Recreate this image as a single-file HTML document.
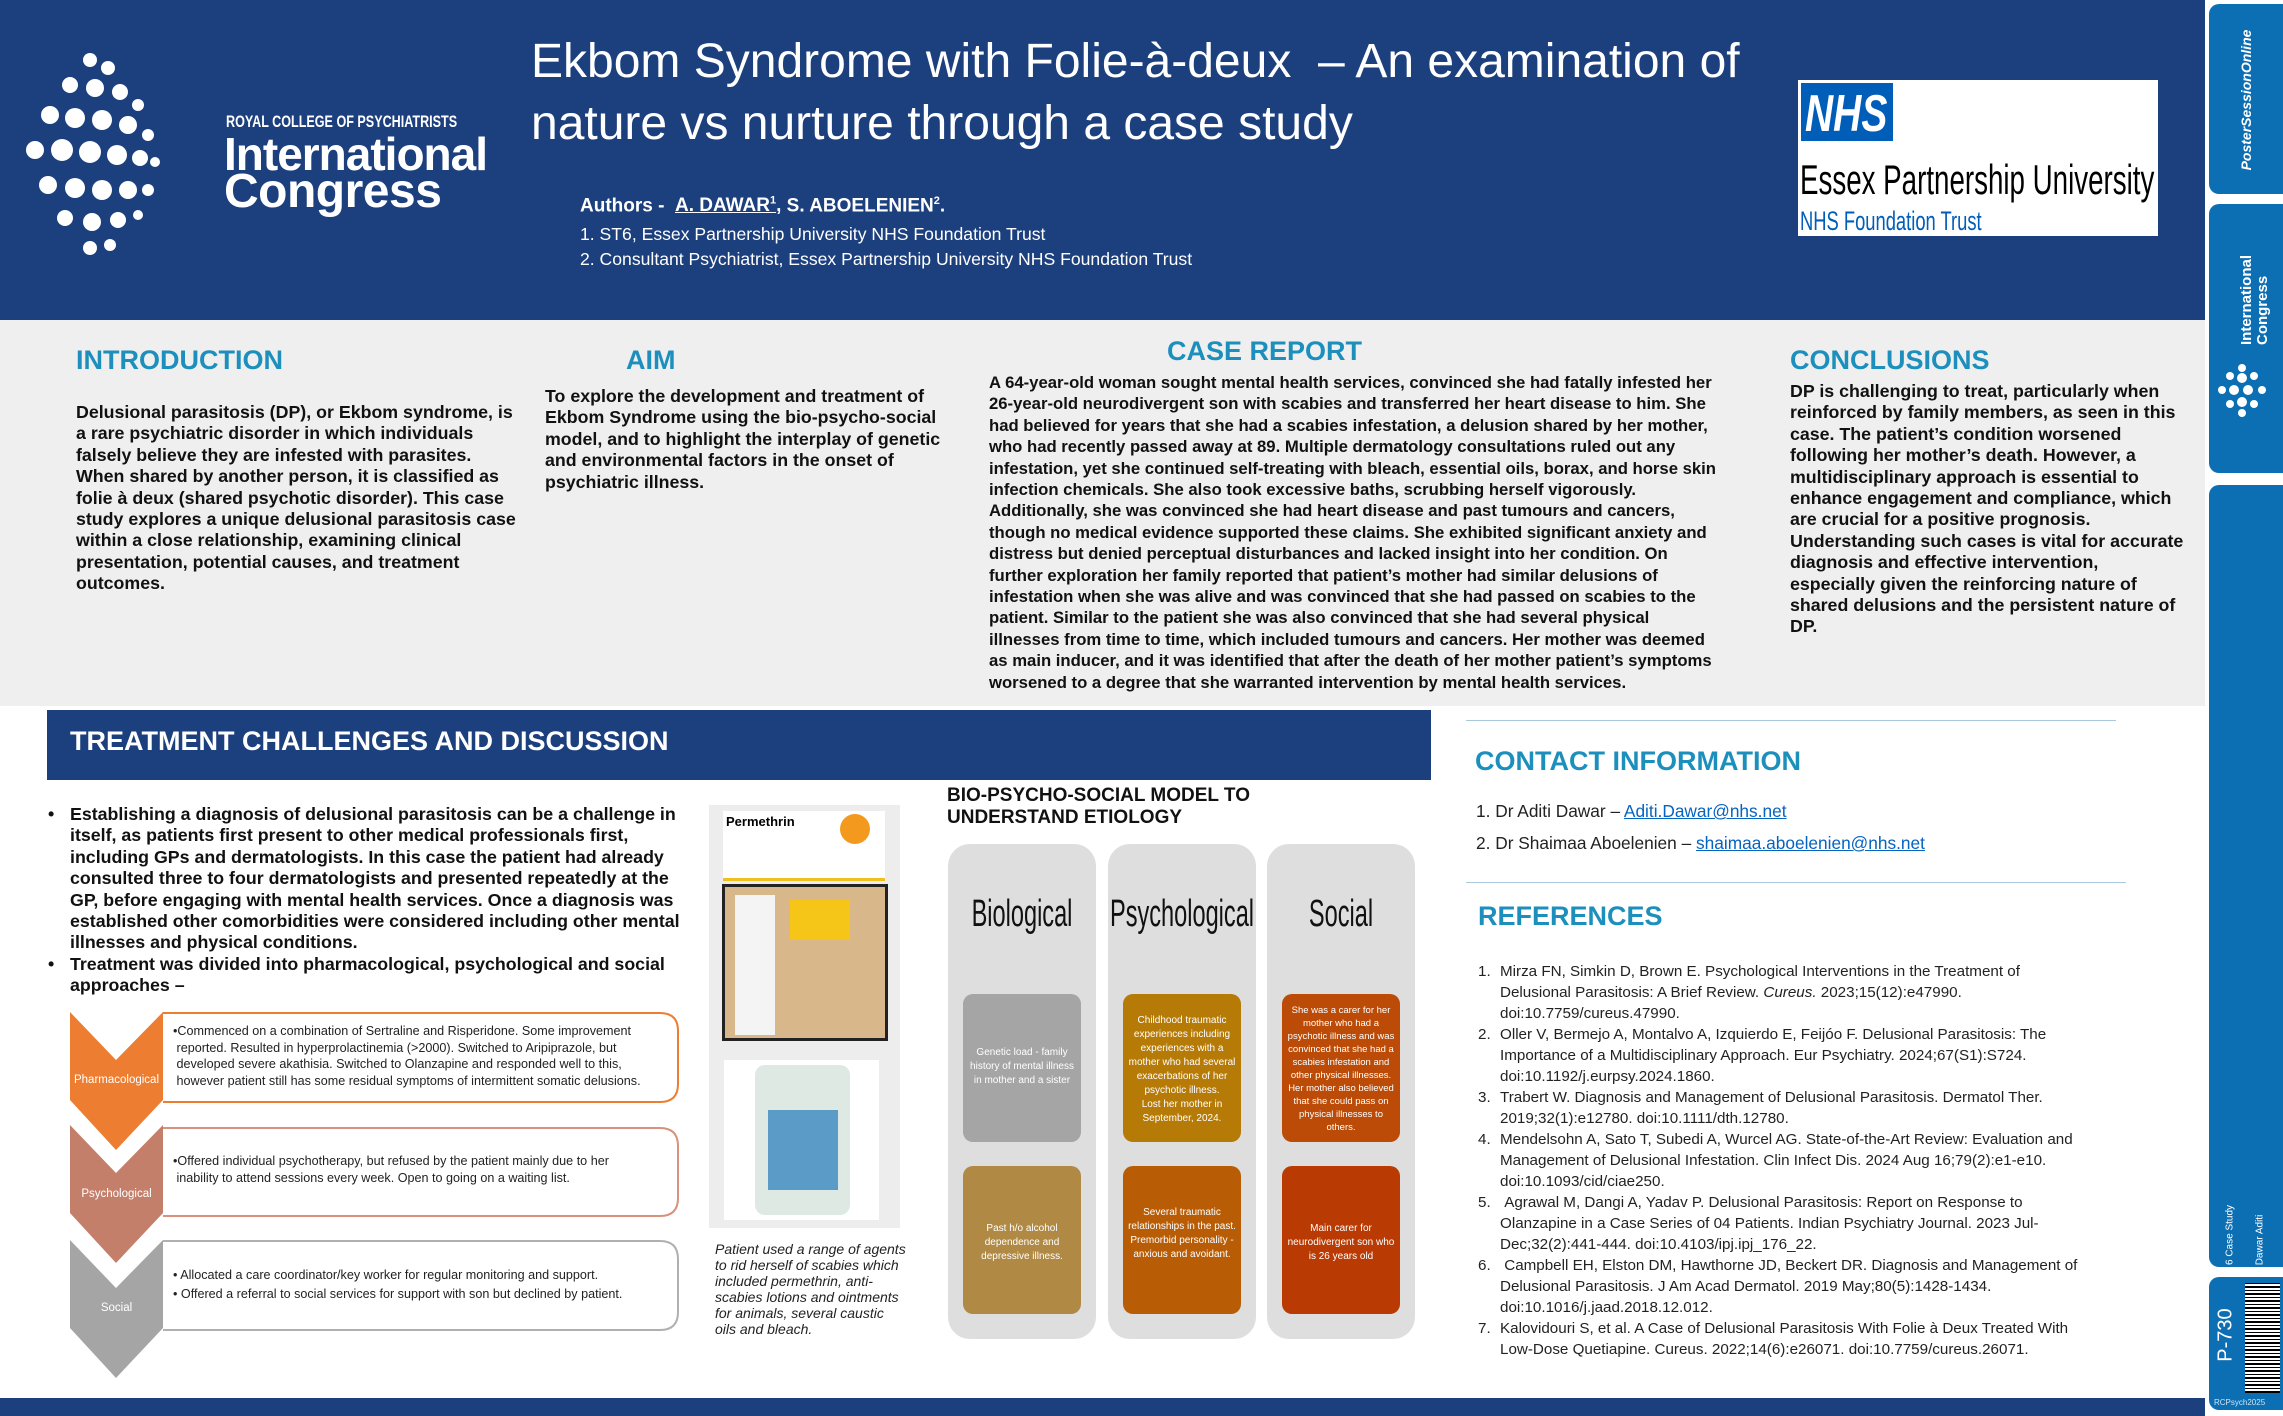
<!DOCTYPE html>
<html><head><meta charset="utf-8">
<style>
*{margin:0;padding:0;box-sizing:border-box}
body{width:2283px;height:1416px;position:relative;background:#fff;font-family:"Liberation Sans",Arial,sans-serif;overflow:hidden}
.a{position:absolute}
.t{position:absolute;white-space:nowrap}
.h{font-weight:bold;color:#1c8fbd;font-size:27px}
.b{font-weight:bold;font-size:17.8px;line-height:21.4px;color:#111}
.ref{font-size:15.2px;line-height:21px;color:#222}
.sx{transform-origin:0 0}
.bh{position:absolute;white-space:nowrap;font-size:38px;color:#111;transform:translateX(-50%) scaleX(0.62)}
.bx{position:absolute;color:#fff;font-size:10px;line-height:14px;text-align:center;border-radius:10px;width:118px;height:148px}
</style></head><body>
<!-- header -->
<div class="a" style="left:0;top:0;width:2205px;height:320px;background:#1c3f7d"></div>
<svg class="a" style="left:20px;top:50px" width="150" height="210" viewBox="0 0 150 210">
<g fill="#fff">
<circle cx="70" cy="10" r="7"/><circle cx="88" cy="18" r="7"/>
<circle cx="50" cy="35" r="8"/><circle cx="75" cy="38" r="9"/><circle cx="100" cy="42" r="8"/><circle cx="118" cy="55" r="6"/>
<circle cx="30" cy="65" r="9"/><circle cx="55" cy="68" r="10"/><circle cx="82" cy="70" r="10"/><circle cx="108" cy="75" r="9"/><circle cx="128" cy="85" r="6"/>
<circle cx="15" cy="100" r="9"/><circle cx="42" cy="100" r="11"/><circle cx="70" cy="102" r="11"/><circle cx="97" cy="105" r="10"/><circle cx="120" cy="108" r="8"/><circle cx="135" cy="112" r="5"/>
<circle cx="28" cy="135" r="9"/><circle cx="55" cy="138" r="10"/><circle cx="82" cy="140" r="10"/><circle cx="108" cy="140" r="9"/><circle cx="128" cy="140" r="6"/>
<circle cx="45" cy="168" r="8"/><circle cx="72" cy="172" r="9"/><circle cx="98" cy="170" r="8"/><circle cx="118" cy="165" r="5"/>
<circle cx="70" cy="198" r="7"/><circle cx="90" cy="195" r="6"/>
</g></svg>
<div class="t sx" style="left:226px;top:112px;color:#fff;font-size:17px;font-weight:bold;transform:scaleX(0.74)">ROYAL COLLEGE OF PSYCHIATRISTS</div>
<div class="t" style="left:224px;top:127px;color:#fff;font-size:46px;font-weight:bold;letter-spacing:-1px">International</div>
<div class="t" style="left:224px;top:164px;color:#fff;font-size:48px;font-weight:bold;letter-spacing:-0.5px">Congress</div>
<div class="t" style="left:531px;top:31px;color:#fff;font-size:48px;line-height:62px">Ekbom Syndrome with Folie-à-deux &nbsp;– An examination of<br>nature vs nurture through a case study</div>
<div class="t" style="left:580px;top:195px;color:#fff;font-size:19px;font-weight:bold">Authors - &nbsp;<u>A. DAWAR<sup style="font-size:11px">1</sup>,</u> S. ABOELENIEN<sup style="font-size:11px">2</sup>.</div>
<div class="t" style="left:580px;top:222px;color:#fff;font-size:17.6px;line-height:25px">1. ST6, Essex Partnership University NHS Foundation Trust<br>2. Consultant Psychiatrist, Essex Partnership University NHS Foundation Trust</div>
<div class="a" style="left:1798px;top:80px;width:360px;height:156px;background:#fff"></div>
<div class="a" style="left:1801px;top:83px;width:92px;height:58px;background:#005eb8"></div>
<div class="t sx" style="left:1805px;top:84px;color:#fff;font-size:52px;font-weight:bold;font-style:italic;transform:scaleX(0.75)">NHS</div>
<div class="t sx" style="left:1800px;top:156px;color:#000;font-size:42px;transform:scaleX(0.66)">Essex Partnership University</div>
<div class="t sx" style="left:1800px;top:206px;color:#005eb8;font-size:27px;transform:scaleX(0.68)">NHS Foundation Trust</div>
<!-- gray band -->
<div class="a" style="left:0;top:320px;width:2205px;height:386px;background:#efefef"></div>
<div class="t h" style="left:76px;top:345px">INTRODUCTION</div>
<div class="t h" style="left:626px;top:345px">AIM</div>
<div class="t h" style="left:1167px;top:336px">CASE REPORT</div>
<div class="t h" style="left:1790px;top:345px">CONCLUSIONS</div>
<div class="t b" style="left:76px;top:402px">Delusional parasitosis (DP), or Ekbom syndrome, is<br>a rare psychiatric disorder in which individuals<br>falsely believe they are infested with parasites.<br>When shared by another person, it is classified as<br>folie à deux (shared psychotic disorder). This case<br>study explores a unique delusional parasitosis case<br>within a close relationship, examining clinical<br>presentation, potential causes, and treatment<br>outcomes.</div>
<div class="t b" style="left:545px;top:386px">To explore the development and treatment of<br>Ekbom Syndrome using the bio-psycho-social<br>model, and to highlight the interplay of genetic<br>and environmental factors in the onset of<br>psychiatric illness.</div>
<div class="t b" style="left:989px;top:372px;font-size:16.7px">A 64-year-old woman sought mental health services, convinced she had fatally infested her<br>26-year-old neurodivergent son with scabies and transferred her heart disease to him. She<br>had believed for years that she had a scabies infestation, a delusion shared by her mother,<br>who had recently passed away at 89. Multiple dermatology consultations ruled out any<br>infestation, yet she continued self-treating with bleach, essential oils, borax, and horse skin<br>infection chemicals. She also took excessive baths, scrubbing herself vigorously.<br>Additionally, she was convinced she had heart disease and past tumours and cancers,<br>though no medical evidence supported these claims. She exhibited significant anxiety and<br>distress but denied perceptual disturbances and lacked insight into her condition. On<br>further exploration her family reported that patient’s mother had similar delusions of<br>infestation when she was alive and was convinced that she had passed on scabies to the<br>patient. Similar to the patient she was also convinced that she had several physical<br>illnesses from time to time, which included tumours and cancers. Her mother was deemed<br>as main inducer, and it was identified that after the death of her mother patient’s symptoms<br>worsened to a degree that she warranted intervention by mental health services.</div>
<div class="t b" style="left:1790px;top:381px">DP is challenging to treat, particularly when<br>reinforced by family members, as seen in this<br>case. The patient’s condition worsened<br>following her mother’s death. However, a<br>multidisciplinary approach is essential to<br>enhance engagement and compliance, which<br>are crucial for a positive prognosis.<br>Understanding such cases is vital for accurate<br>diagnosis and effective intervention,<br>especially given the reinforcing nature of<br>shared delusions and the persistent nature of<br>DP.</div>
<!-- treatment -->
<div class="a" style="left:47px;top:710px;width:1384px;height:70px;background:#1c3f7d"></div>
<div class="t" style="left:70px;top:726px;color:#fff;font-size:27px;font-weight:bold">TREATMENT CHALLENGES AND DISCUSSION</div>
<div class="t b" style="left:48px;top:804px">•<br><br><br><br><br><br><br>•</div>
<div class="t b" style="left:70px;top:804px">Establishing a diagnosis of delusional parasitosis can be a challenge in<br>itself, as patients first present to other medical professionals first,<br>including GPs and dermatologists. In this case the patient had already<br>consulted three to four dermatologists and presented repeatedly at the<br>GP, before engaging with mental health services. Once a diagnosis was<br>established other comorbidities were considered including other mental<br>illnesses and physical conditions.<br>Treatment was divided into pharmacological, psychological and social<br>approaches –</div>
<svg class="a" style="left:0;top:0" width="700" height="1416">
<polygon points="70,1240 116,1288 163,1240 163,1328 116,1378 70,1328" fill="#a5a5a5"/>
<polygon points="70,1125 116,1173 163,1125 163,1213 116,1263 70,1213" fill="#c47f6b"/>
<polygon points="70,1012 116,1060 163,1012 163,1100 116,1150 70,1100" fill="#ed7d31"/>
<path d="M163,1013 H660 Q678,1013 678,1031 V1084 Q678,1102 660,1102 H163" fill="#fff" stroke="#ed7d31" stroke-width="2"/>
<path d="M163,1128 H660 Q678,1128 678,1146 V1198 Q678,1216 660,1216 H163" fill="#fff" stroke="#d9907c" stroke-width="2"/>
<path d="M163,1241 H660 Q678,1241 678,1259 V1312 Q678,1330 660,1330 H163" fill="#fff" stroke="#b0b0b0" stroke-width="2"/>
</svg>
<div class="t" style="left:70px;top:1074px;width:93px;text-align:center;color:#fff;font-size:11.5px">Pharmacological</div>
<div class="t" style="left:70px;top:1188px;width:93px;text-align:center;color:#fff;font-size:11.5px">Psychological</div>
<div class="t" style="left:70px;top:1302px;width:93px;text-align:center;color:#fff;font-size:11.5px">Social</div>
<div class="t" style="left:173px;top:1023px;font-size:12.6px;line-height:16.5px;color:#222">•Commenced on a combination of Sertraline and Risperidone. Some improvement<br>&nbsp;reported. Resulted in hyperprolactinemia (&gt;2000). Switched to Aripiprazole, but<br>&nbsp;developed severe akathisia. Switched to Olanzapine and responded well to this,<br>&nbsp;however patient still has some residual symptoms of intermittent somatic delusions.</div>
<div class="t" style="left:173px;top:1153px;font-size:12.6px;line-height:16.5px;color:#222">•Offered individual psychotherapy, but refused by the patient mainly due to her<br>&nbsp;inability to attend sessions every week. Open to going on a waiting list.</div>
<div class="t" style="left:173px;top:1266px;font-size:12.6px;line-height:19px;color:#222">• Allocated a care coordinator/key worker for regular monitoring and support.<br>• Offered a referral to social services for support with son but declined by patient.</div>
<!-- images -->
<div class="a" style="left:709px;top:805px;width:191px;height:423px;background:#ededed"></div>
<div class="a" style="left:723px;top:811px;width:162px;height:70px;background:#fff;border-bottom:3px solid #f0c020"></div>
<div class="t" style="left:726px;top:814px;font-size:13px;font-weight:bold">Permethrin</div>
<div class="a" style="left:840px;top:814px;width:30px;height:30px;border-radius:50%;background:#f39a1e"></div>
<div class="a" style="left:722px;top:884px;width:166px;height:157px;background:#d8b88a;border:3px solid #222"></div>
<div class="a" style="left:735px;top:895px;width:40px;height:140px;background:#f4f4f4"></div>
<div class="a" style="left:790px;top:900px;width:60px;height:40px;background:#f5c518"></div>
<div class="a" style="left:724px;top:1060px;width:155px;height:160px;background:#fff"></div>
<div class="a" style="left:755px;top:1065px;width:95px;height:150px;background:#dfe9e4;border-radius:10px"></div>
<div class="a" style="left:768px;top:1110px;width:70px;height:80px;background:#5a9bc8"></div>
<div class="t" style="left:715px;top:1241px;font-size:14px;line-height:16px;font-style:italic;color:#222">Patient used a range of agents<br>to rid herself of scabies which<br>included permethrin, anti-<br>scabies lotions and ointments<br>for animals, several caustic<br>oils and bleach.</div>
<!-- BPS -->
<div class="t" style="left:947px;top:785px;font-size:19px;line-height:22px;font-weight:bold;color:#111">BIO-PSYCHO-SOCIAL MODEL TO<br>UNDERSTAND ETIOLOGY</div>
<div class="a" style="left:948px;top:844px;width:148px;height:495px;background:#dedede;border-radius:22px"></div>
<div class="a" style="left:1108px;top:844px;width:148px;height:495px;background:#dedede;border-radius:22px"></div>
<div class="a" style="left:1267px;top:844px;width:148px;height:495px;background:#dedede;border-radius:22px"></div>
<div class="bh" style="left:1022px;top:893px">Biological</div>
<div class="bh" style="left:1182px;top:893px">Psychological</div>
<div class="bh" style="left:1341px;top:893px">Social</div>
<div class="bx" style="left:963px;top:994px;background:#a5a5a5;padding:52px 4px 0">Genetic load - family history of mental illness in mother and a sister</div>
<div class="bx" style="left:963px;top:1166px;background:#b08a44;padding:56px 4px 0">Past h/o alcohol dependence and depressive illness.</div>
<div class="bx" style="left:1123px;top:994px;background:#b67a06;padding:20px 4px 0">Childhood traumatic experiences including experiences with a mother who had several exacerbations of her psychotic illness.<br>Lost her mother in September, 2024.</div>
<div class="bx" style="left:1123px;top:1166px;background:#b85d06;padding:40px 4px 0">Several traumatic relationships in the past.<br>Premorbid personality - anxious and avoidant.</div>
<div class="bx" style="left:1282px;top:994px;background:#bb4b06;padding:10px 3px 0;font-size:9.5px;line-height:13px">She was a carer for her mother who had a psychotic illness and was convinced that she had a scabies infestation and other physical illnesses. Her mother also believed that she could pass on physical illnesses to others.</div>
<div class="bx" style="left:1282px;top:1166px;background:#b93a03;padding:56px 4px 0">Main carer for neurodivergent son who is 26 years old</div>
<!-- right column -->
<div class="a" style="left:1466px;top:720px;width:650px;height:1px;background:#a8c8dc"></div>
<div class="t h" style="left:1475px;top:746px">CONTACT INFORMATION</div>
<div class="t" style="left:1476px;top:795px;font-size:17.3px;line-height:32px;color:#222">1. Dr Aditi Dawar – <u style="color:#0563c1">Aditi.Dawar@nhs.net</u><br>2. Dr Shaimaa Aboelenien – <u style="color:#0563c1">shaimaa.aboelenien@nhs.net</u></div>
<div class="a" style="left:1466px;top:882px;width:660px;height:1px;background:#a8c8dc"></div>
<div class="t h" style="left:1478px;top:901px">REFERENCES</div>
<div class="t ref" style="left:1478px;top:961px">1.<br><br><br>2.<br><br><br>3.<br><br>4.<br><br><br>5.<br><br><br>6.<br><br><br>7.</div>
<div class="t ref" style="left:1500px;top:961px">Mirza FN, Simkin D, Brown E. Psychological Interventions in the Treatment of<br>Delusional Parasitosis: A Brief Review. <i>Cureus.</i> 2023;15(12):e47990.<br>doi:10.7759/cureus.47990.<br>Oller V, Bermejo A, Montalvo A, Izquierdo E, Feijóo F. Delusional Parasitosis: The<br>Importance of a Multidisciplinary Approach. Eur Psychiatry. 2024;67(S1):S724.<br>doi:10.1192/j.eurpsy.2024.1860.<br>Trabert W. Diagnosis and Management of Delusional Parasitosis. Dermatol Ther.<br>2019;32(1):e12780. doi:10.1111/dth.12780.<br>Mendelsohn A, Sato T, Subedi A, Wurcel AG. State-of-the-Art Review: Evaluation and<br>Management of Delusional Infestation. Clin Infect Dis. 2024 Aug 16;79(2):e1-e10.<br>doi:10.1093/cid/ciae250.<br>&nbsp;Agrawal M, Dangi A, Yadav P. Delusional Parasitosis: Report on Response to<br>Olanzapine in a Case Series of 04 Patients. Indian Psychiatry Journal. 2023 Jul-<br>Dec;32(2):441-444. doi:10.4103/ipj.ipj_176_22.<br>&nbsp;Campbell EH, Elston DM, Hawthorne JD, Beckert DR. Diagnosis and Management of<br>Delusional Parasitosis. J Am Acad Dermatol. 2019 May;80(5):1428-1434.<br>doi:10.1016/j.jaad.2018.12.012.<br>Kalovidouri S, et al. A Case of Delusional Parasitosis With Folie à Deux Treated With<br>Low-Dose Quetiapine. Cureus. 2022;14(6):e26071. doi:10.7759/cureus.26071.</div>
<!-- bottom bar -->
<div class="a" style="left:0;top:1398px;width:2205px;height:18px;background:#1c3f7d"></div>
<!-- sidebar -->
<div class="a" style="left:2209px;top:4px;width:74px;height:190px;background:#0c6fb3;border-radius:10px 0 0 10px"></div>
<div class="a" style="left:2209px;top:204px;width:74px;height:269px;background:#0c6fb3;border-radius:10px 0 0 10px"></div>
<div class="a" style="left:2209px;top:485px;width:74px;height:782px;background:#0c6fb3;border-radius:10px 0 0 10px"></div>
<div class="a" style="left:2209px;top:1277px;width:74px;height:133px;background:#0c6fb3;border-radius:10px 0 0 10px"></div>
<div class="t" style="left:2246px;top:100px;color:#fff;font-size:14px;font-weight:bold;font-style:italic;transform:translate(-50%,-50%) rotate(-90deg)">PosterSessionOnline</div>
<div class="t" style="left:2255px;top:300px;color:#fff;font-size:15px;font-weight:bold;line-height:16px;transform:translate(-50%,-50%) rotate(-90deg)">International<br>Congress</div>
<svg class="a" style="left:2212px;top:360px" width="60" height="60" viewBox="0 0 60 60"><g fill="#fff"><circle cx="30" cy="8" r="4"/><circle cx="18" cy="16" r="4"/><circle cx="30" cy="18" r="5"/><circle cx="42" cy="16" r="4"/><circle cx="10" cy="30" r="4"/><circle cx="22" cy="30" r="5"/><circle cx="36" cy="30" r="5"/><circle cx="50" cy="30" r="4"/><circle cx="18" cy="44" r="4"/><circle cx="30" cy="42" r="5"/><circle cx="42" cy="44" r="4"/><circle cx="30" cy="53" r="4"/></g></svg>
<div class="t" style="left:2230px;top:1235px;color:#fff;font-size:10px;transform:translate(-50%,-50%) rotate(-90deg)">6 Case Study</div>
<div class="t" style="left:2260px;top:1240px;color:#fff;font-size:10px;transform:translate(-50%,-50%) rotate(-90deg)">Dawar Aditi</div>
<div class="t" style="left:2226px;top:1335px;color:#fff;font-size:20px;transform:translate(-50%,-50%) rotate(-90deg)">P-730</div>
<div class="a" style="left:2245px;top:1283px;width:35px;height:110px;background:repeating-linear-gradient(0deg,#000 0 2px,#fff 2px 4px,#000 4px 5px,#fff 5px 7px)"></div>
<div class="t" style="left:2214px;top:1398px;color:#cfe3f3;font-size:8px">RCPsych2025</div>
</body></html>
